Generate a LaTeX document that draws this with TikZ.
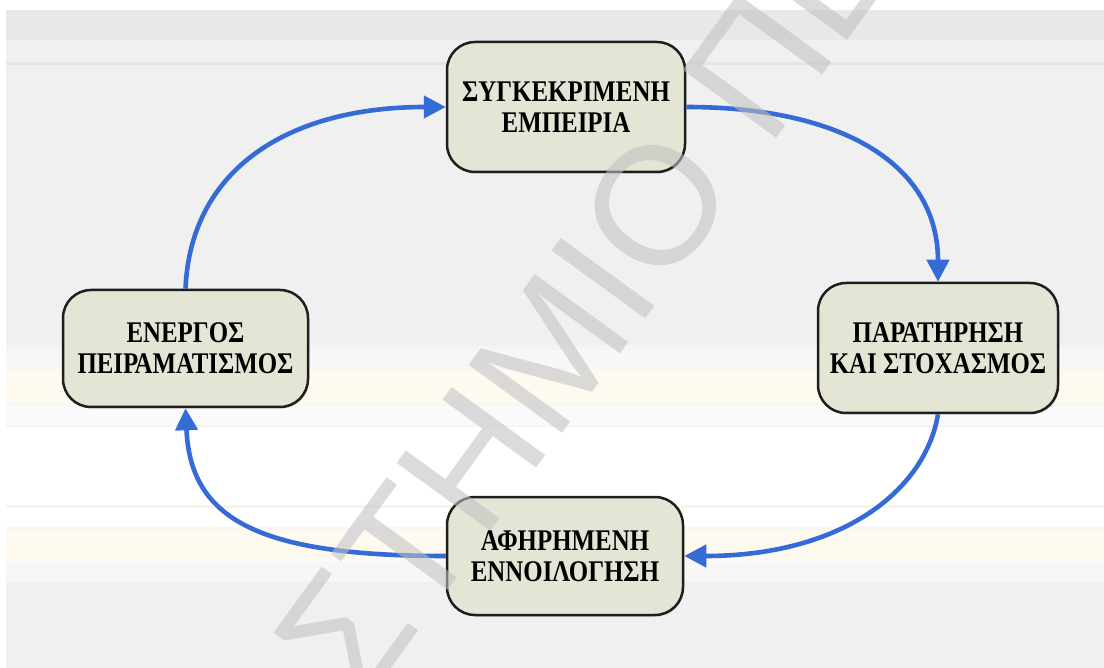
\documentclass[tikz,border=0pt]{standalone}
\usepackage{fontspec}
\setmainfont{Liberation Serif}
\newfontfamily\boxfont[FakeStretch=0.83]{Liberation Serif}
\newfontfamily\markfont{Liberation Sans}
\usetikzlibrary{arrows.meta,shadows}

\definecolor{bandDark}{HTML}{E8E8E8}
\definecolor{bandGray}{HTML}{F0F0F0}
\definecolor{bandLine}{HTML}{E5E5E5}
\definecolor{bandPale}{HTML}{F7F7F7}
\definecolor{bandCream}{HTML}{FFFAF0}
\definecolor{bandCreamLine}{HTML}{FBF5E8}
\definecolor{boxFill}{HTML}{E5E5D6}
\definecolor{boxEdge}{HTML}{1E1E1E}
\definecolor{flowBlue}{HTML}{356BD6}
\definecolor{markGray}{HTML}{C1C1C1}

\tikzset{
  stage/.style={draw=boxEdge, fill=boxFill, line width=1.25pt,
    rounded corners=14pt, align=center, text=black,
    font=\boxfont\bfseries\fontsize{15}{15.5}\selectfont,
    drop shadow={shadow xshift=0.5pt, shadow yshift=-0.8pt, opacity=0.3}},
  flow/.style={draw=flowBlue, line width=2.3pt,
    -{Triangle[length=11pt,width=11pt]}},
  wmark/.style={rotate=54, inner sep=0pt, text=markGray, text opacity=0.57,
    font=\markfont\fontsize{84}{92}\selectfont}
}

\begin{document}
\begin{tikzpicture}[x=0.5pt,y=-0.5pt]
\useasboundingbox (0,0) rectangle (1104,668);

% page background and horizontal bands
\fill[white] (0,0) rectangle (1104,668);
\fill[bandDark]  (6,10)  rectangle (1104,40);
\fill[bandGray]  (6,40)  rectangle (1104,62);
\fill[bandLine]  (6,62)  rectangle (1104,65);
\fill[bandGray]  (6,65)  rectangle (1104,345);
\fill[bandPale!60!bandGray] (6,345) rectangle (1104,350);
\fill[bandPale]  (6,350) rectangle (1104,370);
\fill[bandCream] (6,370) rectangle (1104,403);
\fill[bandPale]  (6,403) rectangle (1104,406);
\fill[white!98!black] (6,406) rectangle (1104,425);
\fill[bandCreamLine] (6,425) rectangle (1104,427);
\fill[bandCreamLine] (6,505) rectangle (1104,508);
\fill[bandPale]  (6,527) rectangle (1104,530);
\fill[bandCream] (6,530) rectangle (1104,562);
\fill[bandPale]  (6,562) rectangle (1104,582);
\fill[bandGray]  (6,582) rectangle (1104,668);

% the four stages of the cycle
\node[stage, minimum width=119pt, minimum height=65pt] (top) at (566,107)
  {ΣΥΓΚΕΚΡΙΜΕΝΗ\\ΕΜΠΕΙΡΙΑ};
\node[stage, minimum width=120pt, minimum height=65pt] (right) at (938,348)
  {ΠΑΡΑΤΗΡΗΣΗ\\ΚΑΙ ΣΤΟΧΑΣΜΟΣ};
\node[stage, minimum width=118pt, minimum height=59pt] (bottom) at (565,556)
  {ΑΦΗΡΗΜΕΝΗ\\ΕΝΝΟΙΛΟΓΗΣΗ};
\node[stage, minimum width=122.5pt, minimum height=58.5pt] (left) at (185.5,348.5)
  {ΕΝΕΡΓΟΣ\\ΠΕΙΡΑΜΑΤΙΣΜΟΣ};

% curved arrows running clockwise
\draw[flow] (top.east) .. controls +(160,0) and +(0,-115) .. (right.north);
\draw[flow] (right.south) .. controls +(-13,77) and +(157,0) .. (bottom.east);
\draw[flow] (bottom.west) .. controls +(-190,0) and +(5,110) .. (left.south);
\draw[flow] (left.north) .. controls +(5,-120) and +(-157,0) .. (top.west);

% diagonal watermark lettering
\begin{scope}
\clip (0,0) rectangle (1104,668);
\node[wmark, anchor=base east] (wmA) at (664,293.2) {ΣΤΗΜΙ};
\node[wmark, anchor=base west] (wmB) at (664,293.2) {Ο ΠΕ};
\end{scope}
\end{tikzpicture}
\end{document}
